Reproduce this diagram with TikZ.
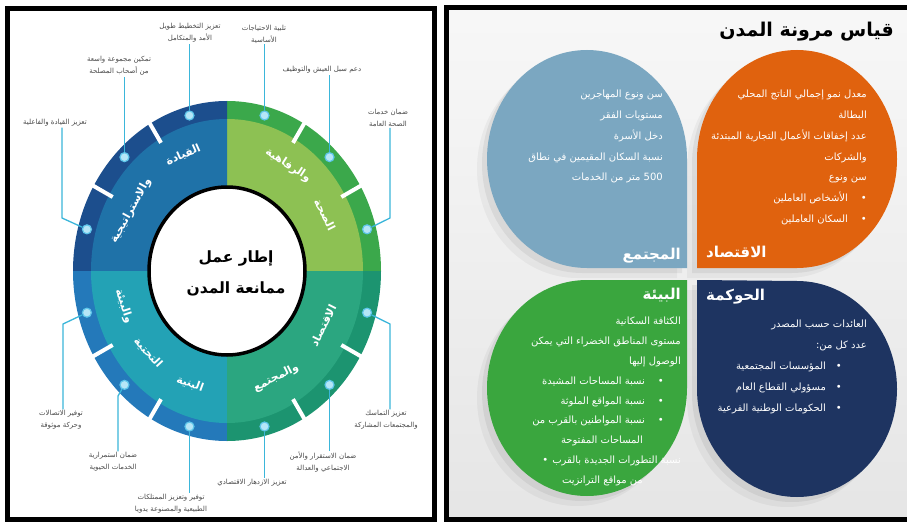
\documentclass[tikz,border=0pt]{standalone}
\usepackage{fontspec}
\usetikzlibrary{shapes.geometric}
\newfontfamily\arabicfont[Script=Arabic]{DejaVu Sans}
\TeXXeTstate=1
\newcommand{\ar}[1]{{\arabicfont\beginR #1\endR}}
\definecolor{tlin}{HTML}{1F72A8}
\definecolor{tlring}{HTML}{1C4E8D}
\definecolor{trin}{HTML}{8DC153}
\definecolor{trring}{HTML}{3BA84B}
\definecolor{brin}{HTML}{2BA680}
\definecolor{brring}{HTML}{1C9470}
\definecolor{blin}{HTML}{23A2B5}
\definecolor{blring}{HTML}{2479BA}
\definecolor{conncol}{HTML}{3BB6DA}
\definecolor{dotfill}{HTML}{B5E6F7}
\definecolor{dotedge}{HTML}{5EC6EA}
\definecolor{lblcol}{HTML}{4A4A4A}
\definecolor{petblue}{HTML}{7BA7C1}
\definecolor{petorange}{HTML}{E0620E}
\definecolor{petgreen}{HTML}{3AA63E}
\definecolor{petnavy}{HTML}{1E3461}
\begin{document}
\begin{tikzpicture}[x=1pt,y=-1pt,
 qtext/.style={text=white, font=\arabicfont\bfseries\fontsize{11}{13}\selectfont, inner sep=0pt},
 lbl/.style={text=lblcol, font=\arabicfont\fontsize{7}{12}\selectfont, align=center, inner sep=1pt},
 dotnode/.style={circle, fill=dotfill, draw=dotedge, line width=1.2pt, minimum size=9pt, inner sep=0pt},
 conn/.style={draw=conncol, line width=1.3pt},
 ringgap/.style={white, line width=4pt},
 hubnode/.style={ellipse, draw=black, fill=white, line width=3.5pt, minimum width=156pt, minimum height=168pt, inner sep=0pt},
 hubtext/.style={align=center, inner sep=0pt, font=\arabicfont\bfseries\fontsize{15.5}{31}\selectfont},
 ptext/.style={text=white, font=\arabicfont\fontsize{10}{20.8}\selectfont, align=right, inner sep=0pt},
 ptitle/.style={text=white, font=\arabicfont\bfseries\fontsize{15}{18}\selectfont, inner sep=0pt},
 pTL/.style={insert path={(687,268) -- (687,159) arc[start angle=0,end angle=-270,x radius=100,y radius=109] -- cycle}},
 pTR/.style={insert path={(697,268) -- (797,268) arc[start angle=90,end angle=-180,x radius=100,y radius=109] -- cycle}},
 pBL/.style={insert path={(687,280) -- (587,280) arc[start angle=-90,end angle=-360,x radius=100,y radius=108] -- cycle}},
 pBR/.style={insert path={(697,280) -- (697,389) arc[start angle=180,end angle=-90,x radius=100,y radius=108] -- cycle}},
]
\useasboundingbox (0,0) rectangle (907,524);
\fill[white] (0,0) rectangle (907,524);

% ---------------- left panel ----------------
\draw[line width=5pt] (7,9) rectangle (434,519);

\begin{scope}[shift={(227,271)}, y=1pt]
 \fill[trring] (0,0) -- (0:154 and 170) arc[start angle=0,end angle=90,x radius=154,y radius=170] -- cycle;
 \fill[tlring] (0,0) -- (90:154 and 170) arc[start angle=90,end angle=180,x radius=154,y radius=170] -- cycle;
 \fill[blring] (0,0) -- (180:154 and 170) arc[start angle=180,end angle=270,x radius=154,y radius=170] -- cycle;
 \fill[brring] (0,0) -- (270:154 and 170) arc[start angle=270,end angle=360,x radius=154,y radius=170] -- cycle;
 \fill[trin] (0,0) -- (0:136 and 152) arc[start angle=0,end angle=90,x radius=136,y radius=152] -- cycle;
 \fill[tlin] (0,0) -- (90:136 and 152) arc[start angle=90,end angle=180,x radius=136,y radius=152] -- cycle;
 \fill[blin] (0,0) -- (180:136 and 152) arc[start angle=180,end angle=270,x radius=136,y radius=152] -- cycle;
 \fill[brin] (0,0) -- (270:136 and 152) arc[start angle=270,end angle=360,x radius=136,y radius=152] -- cycle;
 \foreach \a in {30,60,120,150,210,240,300,330}
   \draw[ringgap] (\a:132 and 148) -- (\a:158 and 174);
 \node[hubnode] (hub) at (0,0) {};
 \node[hubtext] (hubtxt) at (9,-2) {\ar{إطار عمل}\\\ar{ممانعة المدن}};
 % quadrant titles
 \node[qtext, rotate=24] (q1a) at (113:112 and 126) {\ar{القيادة}};
 \node[qtext, rotate=61] (q1b) at (151:110 and 124) {\ar{والاستراتيجية}};
 \node[qtext, rotate=-33] (q2a) at (57:112 and 126) {\ar{والرفاهية}};
 \node[qtext, rotate=-63] (q2b) at (27:110 and 124) {\ar{الصحة}};
 \node[qtext, rotate=63] (q3a) at (333:108 and 120) {\ar{الاقتصاد}};
 \node[qtext, rotate=27] (q3b) at (297:108 and 120) {\ar{والمجتمع}};
 \node[qtext, rotate=-20] (q4a) at (250:108 and 120) {\ar{البنية}};
 \node[qtext, rotate=-47] (q4b) at (223:108 and 120) {\ar{التحتية}};
 \node[qtext, rotate=-72] (q4c) at (197:108 and 120) {\ar{والبيئة}};
 \foreach \a in {15,45,...,345}
   \node[dotnode] (d\a) at (\a:145 and 161) {};
\end{scope}

% labels
\node[lbl] (l105) at (190,33) {\ar{تعزيز التخطيط طويل}\\\ar{الأمد والمتكامل}};
\node[lbl] (l135) at (119,66) {\ar{تمكين مجموعة واسعة}\\\ar{من أصحاب المصلحة}};
\node[lbl] (l165) at (55,123) {\ar{تعزيز القيادة والفاعلية}};
\node[lbl] (l75) at (264,34) {\ar{تلبية الاحتياجات}\\\ar{الأساسية}};
\node[lbl] (l45) at (322,70) {\ar{دعم سبل العيش والتوظيف}};
\node[lbl] (l15) at (388,118) {\ar{ضمان خدمات}\\\ar{الصحة العامة}};
\node[lbl] (l345) at (386,420) {\ar{تعزيز التماسك}\\\ar{والمجتمعات المشاركة}};
\node[lbl] (l315) at (323,462) {\ar{ضمان الاستقرار والأمن}\\\ar{الاجتماعي والعدالة}};
\node[lbl] (l285) at (252,483) {\ar{تعزيز الازدهار الاقتصادي}};
\node[lbl] (l255) at (171,504) {\ar{توفير وتعزيز الممتلكات}\\\ar{الطبيعية والمصنوعة يدويا}};
\node[lbl] (l225) at (113,462) {\ar{ضمان استمرارية}\\\ar{الخدمات الحيوية}};
\node[lbl] (l195) at (61,420) {\ar{توفير الاتصالات}\\\ar{وحركة موثوقة}};

\coordinate (b165) at (62,218);
\coordinate (b15) at (390,218);
\coordinate (b345) at (390,324);
\coordinate (b225) at (118,396);
\coordinate (b195) at (63,324);

\draw[conn] (d105) -- (d105 |- l105.south);
\draw[conn] (d135) -- (d135 |- l135.south);
\draw[conn] (d165) -- (b165) -- (b165 |- l165.south);
\draw[conn] (d75) -- (d75 |- l75.south);
\draw[conn] (d45) -- (d45 |- l45.south);
\draw[conn] (d15) -- (b15) -- (b15 |- l15.south);
\draw[conn] (d345) -- (b345) -- (b345 |- l345.north);
\draw[conn] (d315) -- (d315 |- l315.north);
\draw[conn] (d285) -- (d285 |- l285.north);
\draw[conn] (d255) -- (d255 |- l255.north);
\draw[conn] (d225) -- (b225) -- (b225 |- l225.north);
\draw[conn] (d195) -- (b195) -- (b195 |- l195.north);

% ---------------- right panel ----------------
\shade[top color=white!97!black, bottom color=white!90!black] (446,8) rectangle (907,519);
\foreach \s/\o in {10/0.04, 5/0.06}{
  \fill[black, opacity=\o, shift={(-\s,\s)}, pTL];
  \fill[black, opacity=\o, shift={(-\s,\s)}, pTR];
  \fill[black, opacity=\o, shift={(-\s,\s)}, pBL];
  \fill[black, opacity=\o, shift={(-\s,\s)}, pBR];
}
\fill[petblue, pTL];
\fill[petorange, pTR];
\fill[petgreen, pBL];
\fill[petnavy, pBR];
\draw[line width=5pt] (907,8) -- (446,8) -- (446,519) -- (907,519);

\node[anchor=east, font=\arabicfont\bfseries\fontsize{19}{22}\selectfont, inner sep=0pt] (title) at (894,32) {\ar{قياس مرونة المدن}};

\node[ptext, anchor=north east] (tblue) at (663,90) {\ar{سن ونوع المهاجرين}\\\ar{مستويات الفقر}\\\ar{دخل الأسرة}\\\ar{نسبة السكان المقيمين في نطاق}\\\ar{500 متر من الخدمات}};
\node[ptitle, anchor=east] (hblue) at (681,256) {\ar{المجتمع}};

\node[ptext, anchor=north east] (torange) at (867,90) {\ar{معدل نمو إجمالي الناتج المحلي}\\\ar{البطالة}\\\ar{عدد إخفاقات الأعمال التجارية المبتدئة}\\\ar{والشركات}\\\ar{سن ونوع}\\\ar{•\hspace{13pt}الأشخاص العاملين}\\\ar{•\hspace{13pt}السكان العاملين}};
\node[ptitle, anchor=west] (horange) at (706,252) {\ar{الاقتصاد}};

\node[ptitle, anchor=east] (hgreen) at (681,295) {\ar{البيئة}};
\node[ptext, anchor=north east, font=\arabicfont\fontsize{10}{19.8}\selectfont] (tgreen) at (681,317) {\ar{الكثافة السكانية}\\\ar{مستوى المناطق الخضراء التي يمكن}\\\ar{الوصول إليها}\\\ar{\kern17pt•\hspace{13pt}نسبة المساحات المشيدة}\\\ar{\kern17pt•\hspace{13pt}نسبة المواقع الملوثة}\\\ar{\kern17pt•\hspace{13pt}نسبة المواطنين بالقرب من}\\\ar{\kern38pt المساحات المفتوحة}\\\ar{نسبة التطورات الجديدة بالقرب\hspace{4pt}•}\\\ar{\kern38pt من مواقع الترانزيت}};

\node[ptitle, anchor=west] (hnavy) at (706,297) {\ar{الحوكمة}};
\node[ptext, anchor=north east] (tnavy) at (867,320) {\ar{العائدات حسب المصدر}\\\ar{عدد كل من:}\\\ar{\kern25pt•\hspace{10pt}المؤسسات المجتمعية}\\\ar{\kern25pt•\hspace{10pt}مسؤولي القطاع العام}\\\ar{\kern25pt•\hspace{10pt}الحكومات الوطنية الفرعية}};
\end{tikzpicture}
\end{document}
